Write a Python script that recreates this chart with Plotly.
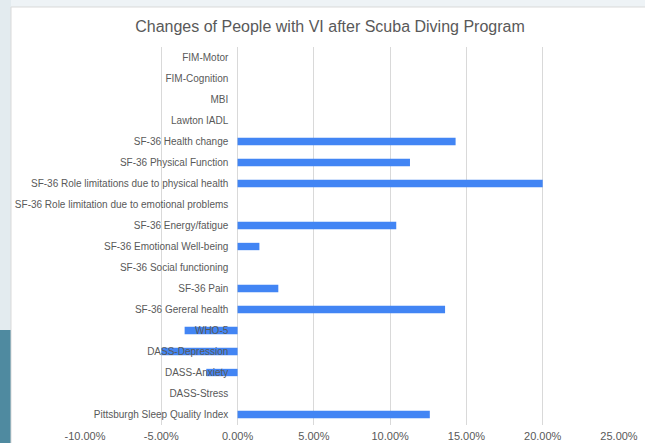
import plotly.graph_objects as go

categories = [
    "FIM-Motor", "FIM-Cognition", "MBI", "Lawton IADL",
    "SF-36 Health change", "SF-36 Physical Function",
    "SF-36 Role limitations due to physical health",
    "SF-36 Role limitation due to emotional problems",
    "SF-36 Energy/fatigue", "SF-36 Emotional Well-being",
    "SF-36 Social functioning", "SF-36 Pain", "SF-36 Gereral health",
    "WHO-5", "DASS-Depression", "DASS-Anxiety", "DASS-Stress",
    "Pittsburgh Sleep Quality Index",
]
changes = [
    0.0, 0.0, 0.0, 0.0,
    0.1429, 0.113,
    0.20,
    0.0,
    0.104, 0.0143,
    0.0, 0.0267, 0.136,
    -0.0347, -0.05, -0.0205, 0.0,
    0.126,
]
tick_vals = [-0.10, -0.05, 0.0, 0.05, 0.10, 0.15, 0.20, 0.25]
tick_text = ["-10.00%", "-5.00%", "0.00%", "5.00%", "10.00%", "15.00%", "20.00%", "25.00%"]

W, H = 645, 443
L, R, T, B = 85, 26, 47, 18
pw, ph = W - L - R, H - T - B

def px_x(p):
    return (p - L) / pw

def px_y(p):
    return (H - B - p) / ph

fig = go.Figure(go.Bar(
    x=changes, y=categories, orientation="h",
    marker=dict(color="#4285F4", line=dict(width=0)),
))

shapes = [
    dict(type="rect", xref="paper", yref="paper", layer="below",
         x0=px_x(-5), x1=px_x(11), y0=px_y(H + 5), y1=px_y(-5),
         fillcolor="#e3ebef", line=dict(width=0)),
    dict(type="rect", xref="paper", yref="paper", layer="below",
         x0=px_x(-5), x1=px_x(11), y0=px_y(H + 5), y1=px_y(330),
         fillcolor="#4f8aa0", line=dict(width=0)),
    dict(type="rect", xref="paper", yref="paper", layer="below",
         x0=px_x(11), x1=px_x(W + 5), y0=px_y(H + 5), y1=px_y(7),
         fillcolor="white", line=dict(color="#d9d9d9", width=1)),
]

fig.update_layout(
    width=W, height=H,
    margin=dict(l=L, r=R, t=T, b=B, autoexpand=False),
    paper_bgcolor="#eef3f6",
    plot_bgcolor="rgba(0,0,0,0)",
    shapes=shapes,
    showlegend=False,
    bargap=0.65,
    title=dict(text="Changes of People with VI after Scuba Diving Program",
               x=330 / W, xanchor="center",
               y=1 - 26 / H, yanchor="middle", yref="container",
               font=dict(family="Liberation Sans, Arial", size=16, color="#595959")),
    font=dict(family="Liberation Sans, Arial", color="#595959"),
    xaxis=dict(
        range=[-0.10, 0.25], tickvals=tick_vals, ticktext=tick_text,
        showgrid=True, gridcolor="#d9d9d9", gridwidth=1,
        zeroline=False, showline=False, ticks="",
        ticklabelstandoff=3,
        tickfont=dict(size=11, color="#595959"),
        fixedrange=True,
    ),
    yaxis=dict(
        categoryorder="array", categoryarray=categories, autorange="reversed",
        anchor="free", position=(238.3 - L) / pw,
        showgrid=False, zeroline=False, showline=False, ticks="",
        ticklabelstandoff=10,
        tickfont=dict(size=10, color="#595959"),
        fixedrange=True,
    ),
)

fig.write_html(
    "out.html",
    config={"displayModeBar": False},
    post_script="document.body.style.margin='0';document.body.style.overflow='hidden';",
)
